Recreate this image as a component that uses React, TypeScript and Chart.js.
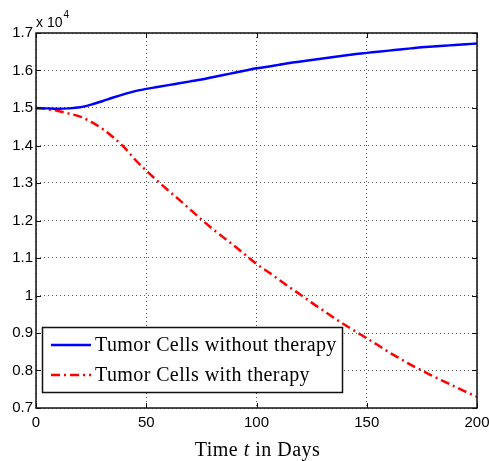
import React, { useEffect, useRef } from "react";
import { Chart, registerables } from "chart.js";

Chart.register(...registerables);

const days = [0,5,10,15,20,25,30,35,40,45,50,55,60,65,70,75,80,85,90,95,100,105,110,115,120,125,130,135,140,145,150,155,160,165,170,175,180,185,190,195,200];
const withoutTherapy = [1.500,1.499,1.498,1.499,1.502,1.509,1.518,1.528,1.537,1.545,1.551,1.556,1.561,1.566,1.571,1.576,1.582,1.588,1.594,1.600,1.606,1.610,1.615,1.620,1.624,1.628,1.632,1.636,1.640,1.644,1.647,1.650,1.653,1.656,1.659,1.662,1.664,1.666,1.668,1.670,1.672];
const withTherapy = [1.500,1.497,1.492,1.485,1.477,1.463,1.445,1.422,1.395,1.362,1.333,1.306,1.280,1.255,1.229,1.203,1.178,1.155,1.132,1.108,1.084,1.064,1.043,1.022,1.002,0.981,0.961,0.941,0.922,0.904,0.886,0.868,0.849,0.832,0.815,0.800,0.785,0.771,0.757,0.743,0.730];
const xTicks = [0, 50, 100, 150, 200];
const yTicks = [0.7, 0.8, 0.9, 1.0, 1.1, 1.2, 1.3, 1.4, 1.5, 1.6, 1.7];
const seriesLabels = ["Tumor Cells without therapy", "Tumor Cells with therapy"];
const xTitleParts = ["Time ", "t", " in Days"];
const exponentBase = "x 10";
const exponentPower = "4";

const W = 489;
const H = 461;
const AREA = { left: 36, top: 33, right: 477, bottom: 408 };
const SERIF = "'Liberation Serif', 'DejaVu Serif', serif";
const SANS = "'Liberation Sans', Arial, sans-serif";
const RED_DASH = [9, 4, 2, 4];

const decorations = {
  id: "matlabDecorations",
  afterDatasetsDraw(chart: any) {
    const ctx = chart.ctx as CanvasRenderingContext2D;
    const a = chart.chartArea;
    const xs = chart.scales.x;
    const ys = chart.scales.y;
    ctx.save();
    // box
    ctx.strokeStyle = "#111";
    ctx.lineWidth = 1.5;
    ctx.setLineDash([]);
    ctx.strokeRect(a.left, a.top, a.right - a.left, a.bottom - a.top);
    // inward ticks
    const tl = 5;
    ctx.lineWidth = 1;
    ctx.beginPath();
    xTicks.forEach((v) => {
      const px = Math.round(xs.getPixelForValue(v)) + 0.5;
      ctx.moveTo(px, a.bottom);
      ctx.lineTo(px, a.bottom - tl);
      ctx.moveTo(px, a.top);
      ctx.lineTo(px, a.top + tl);
    });
    yTicks.forEach((v) => {
      const py = Math.round(ys.getPixelForValue(v)) + 0.5;
      ctx.moveTo(a.left, py);
      ctx.lineTo(a.left + tl, py);
      ctx.moveTo(a.right, py);
      ctx.lineTo(a.right - tl, py);
    });
    ctx.stroke();

    // exponent label
    ctx.fillStyle = "#000";
    ctx.textBaseline = "alphabetic";
    ctx.textAlign = "left";
    ctx.font = `14px ${SANS}`;
    ctx.fillText(exponentBase, a.left, 27);
    const bw = ctx.measureText(exponentBase).width;
    ctx.font = `10px ${SANS}`;
    ctx.fillText(exponentPower, a.left + bw + 1, 18);

    // x title with italic t
    const fontSize = 20;
    (ctx as any).letterSpacing = "0.5px";
    const fonts = [`${fontSize}px ${SERIF}`, `italic ${fontSize}px ${SERIF}`, `${fontSize}px ${SERIF}`];
    let total = 0;
    const widths = xTitleParts.map((p, i) => {
      ctx.font = fonts[i];
      const w = ctx.measureText(p).width;
      total += w;
      return w;
    });
    let tx = (a.left + a.right) / 2 - total / 2 + 1;
    ctx.textBaseline = "middle";
    xTitleParts.forEach((p, i) => {
      ctx.font = fonts[i];
      ctx.fillText(p, tx, 451);
      tx += widths[i];
    });

    // legend
    const lb = { x: 42.5, y: 327.5, w: 300, h: 65 };
    ctx.fillStyle = "#fff";
    ctx.fillRect(lb.x, lb.y, lb.w, lb.h);
    ctx.strokeStyle = "#111";
    ctx.lineWidth = 1.5;
    ctx.strokeRect(lb.x, lb.y, lb.w, lb.h);
    const rows = [345, 375];
    (ctx as any).letterSpacing = "0.4px";
    chart.data.datasets.forEach((ds: any, i: number) => {
      const y = rows[i];
      ctx.strokeStyle = ds.borderColor;
      ctx.lineWidth = ds.borderWidth;
      ctx.setLineDash(ds.borderDash || []);
      ctx.beginPath();
      ctx.moveTo(51, y);
      ctx.lineTo(91, y);
      ctx.stroke();
      ctx.setLineDash([]);
      ctx.fillStyle = "#000";
      ctx.font = `${fontSize}px ${SERIF}`;
      ctx.textBaseline = "middle";
      ctx.textAlign = "left";
      ctx.fillText(seriesLabels[i], 95, y + 1);
    });
    ctx.restore();
  },
};

export default function App() {
  const ref = useRef<HTMLCanvasElement | null>(null);
  useEffect(() => {
    if (!ref.current) return;
    const chart = new Chart(ref.current, {
      type: "line",
      data: {
        datasets: [
          {
            label: seriesLabels[0],
            data: days.map((d, i) => ({ x: d, y: withoutTherapy[i] })),
            borderColor: "#0000ff",
            backgroundColor: "#0000ff",
            borderWidth: 2.5,
            pointRadius: 0,
            cubicInterpolationMode: "monotone",
            fill: false,
          },
          {
            label: seriesLabels[1],
            data: days.map((d, i) => ({ x: d, y: withTherapy[i] })),
            borderColor: "#ff0000",
            backgroundColor: "#ff0000",
            borderWidth: 2.5,
            borderDash: RED_DASH,
            pointRadius: 0,
            cubicInterpolationMode: "monotone",
            fill: false,
          },
        ],
      },
      options: {
        responsive: false,
        animation: false,
        devicePixelRatio: 1,
        layout: { padding: { left: 0, right: W - AREA.right, top: AREA.top, bottom: 0 } },
        plugins: { legend: { display: false }, tooltip: { enabled: false }, title: { display: false } },
        scales: {
          x: {
            type: "linear",
            min: 0,
            max: 200,
            afterBuildTicks: (s: any) => { s.ticks = xTicks.map((v) => ({ value: v })); },
            afterFit: (s: any) => { s.height = H - AREA.bottom; s.paddingLeft = 0; s.paddingRight = 0; },
            grid: { color: "#555", lineWidth: 1, drawTicks: false },
            border: { display: false, dash: [1, 3] },
            ticks: {
              padding: 6,
              color: "#000",
              maxRotation: 0,
              autoSkip: false,
              font: { family: SANS, size: 15 },
              callback: (v: any) => String(v),
            },
          },
          y: {
            type: "linear",
            min: 0.7,
            max: 1.7,
            afterBuildTicks: (s: any) => { s.ticks = yTicks.map((v) => ({ value: v })); },
            afterFit: (s: any) => { s.width = AREA.left; s.paddingTop = 0; s.paddingBottom = 0; },
            grid: { color: "#555", lineWidth: 1, drawTicks: false },
            border: { display: false, dash: [1, 3] },
            ticks: {
              padding: 3,
              color: "#000",
              autoSkip: false,
              font: { family: SANS, size: 15 },
              callback: (v: any) => String(Number(Number(v).toFixed(1))),
            },
          },
        },
      },
      plugins: [decorations],
    } as any);
    return () => chart.destroy();
  }, []);
  return (
    <div style={{ position: "fixed", left: 0, top: 0, width: W, height: H, background: "#fff" }}>
      <canvas ref={ref} width={W} height={H} style={{ display: "block", width: W, height: H }} />
    </div>
  );
}
